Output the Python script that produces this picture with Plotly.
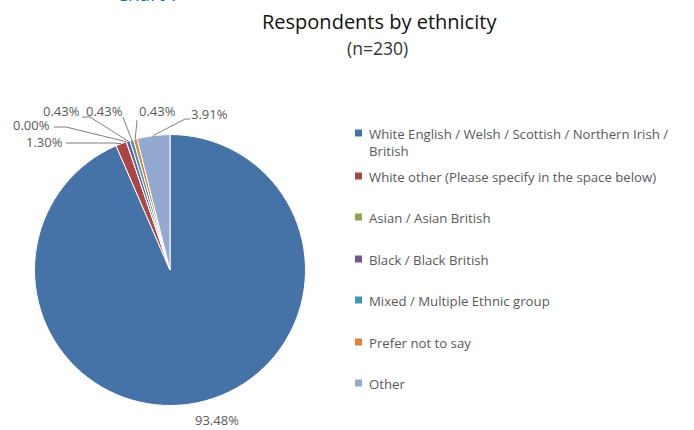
import math
import plotly.graph_objects as go

# Survey responses by ethnicity (n=230)
categories = [
    "White English / Welsh / Scottish / Northern Irish / British",
    "White other (Please specify in the space below)",
    "Asian / Asian British",
    "Black / Black British",
    "Mixed / Multiple Ethnic group",
    "Prefer not to say",
    "Other",
]
legend_labels = [
    "White English / Welsh / Scottish / Northern Irish /<br>British",
    "White other (Please specify in the space below)",
    "Asian / Asian British",
    "Black / Black British",
    "Mixed / Multiple Ethnic group",
    "Prefer not to say",
    "Other",
]
counts = [215, 3, 0, 1, 1, 1, 9]
colors = ["#4572A7", "#AA4643", "#89A54E", "#71588F", "#4198AF", "#DB843D", "#93A9CF"]

W, H = 694, 430
FONT = "Open Sans"
GREY = "#595959"

# pie geometry in pixels
CX, CY, R = 170, 270, 135.5

def px(x):
    return x / W

def py(y):
    return 1 - y / H

total = sum(counts)
pct_text = [f"{100 * c / total:.2f}%" for c in counts]

fig = go.Figure(go.Pie(
    labels=categories,
    values=counts,
    sort=False,
    direction="clockwise",
    rotation=0,
    marker=dict(colors=colors, line=dict(color="white", width=1)),
    textinfo="none",
    hoverinfo="label+percent",
    showlegend=False,
    domain=dict(x=[px(CX - R), px(CX + R)], y=[py(CY + R), py(CY - R)]),
))

# data-label placement: label centre and where its leader line begins/bends
label_pos = [
    dict(c=(217, 420), line=None),
    dict(c=(44, 142), line=[(66, 143), (112, 143)]),
    dict(c=(32, 125), line=[(54, 127), (66, 127)]),
    dict(c=(61, 111), line=[(82, 117), (90, 117)]),
    dict(c=(104, 111), line=[(123, 117)]),
    dict(c=(157, 111), line=[(137, 120)]),
    dict(c=(210, 114), line=[(190, 119), (185, 119)]),
]

shapes = []
annotations = []

cum = 0
for i, c in enumerate(counts):
    mid = (cum + c / 2) / total * 2 * math.pi
    cum += c
    ax = CX + R * math.sin(mid)
    ay = CY - R * math.cos(mid)
    lp = label_pos[i]
    annotations.append(dict(
        x=px(lp["c"][0]), y=py(lp["c"][1]), xref="paper", yref="paper",
        text=pct_text[i], showarrow=False,
        font=dict(family=FONT, size=13, color=GREY),
        xanchor="center", yanchor="middle",
    ))
    if lp["line"]:
        pts = lp["line"] + [(ax, ay)]
        path = "M " + " L ".join(f"{px(x)},{py(y)}" for x, y in pts)
        shapes.append(dict(type="path", xref="paper", yref="paper", path=path,
                           line=dict(color="#7f7f7f", width=1)))

# legend drawn as swatches with text
legend_y = [133, 176, 217, 259, 300, 342, 383]
for i, lab in enumerate(legend_labels):
    y = legend_y[i]
    shapes.append(dict(type="rect", xref="paper", yref="paper",
                       x0=px(355), x1=px(362), y0=py(y + 3.5), y1=py(y - 3.5),
                       fillcolor=colors[i], line=dict(width=0)))
    annotations.append(dict(
        x=px(367), y=py(y - 10), xref="paper", yref="paper",
        text=lab, showarrow=False, align="left",
        font=dict(family=FONT, size=13.2, color=GREY),
        xanchor="left", yanchor="top",
    ))

# title and subtitle
annotations.append(dict(x=px(380), y=py(22), xref="paper", yref="paper",
                        text="Respondents by ethnicity", showarrow=False,
                        font=dict(family=FONT, size=20, color="#111111"),
                        xanchor="center", yanchor="middle"))
annotations.append(dict(x=px(377), y=py(48), xref="paper", yref="paper",
                        text="(n=230)", showarrow=False,
                        font=dict(family=FONT, size=17.5, color="#333333"),
                        xanchor="center", yanchor="middle"))
# section heading above the chart
annotations.append(dict(x=px(114), y=py(-6), xref="paper", yref="paper",
                        text="Chart 7", showarrow=False,
                        font=dict(family=FONT, size=19, color="#0070C0"),
                        xanchor="left", yanchor="middle"))

fig.update_layout(
    width=W, height=H,
    margin=dict(l=0, r=0, t=0, b=0),
    paper_bgcolor="white",
    plot_bgcolor="white",
    shapes=shapes,
    annotations=annotations,
)

fig.write_html("out.html")
